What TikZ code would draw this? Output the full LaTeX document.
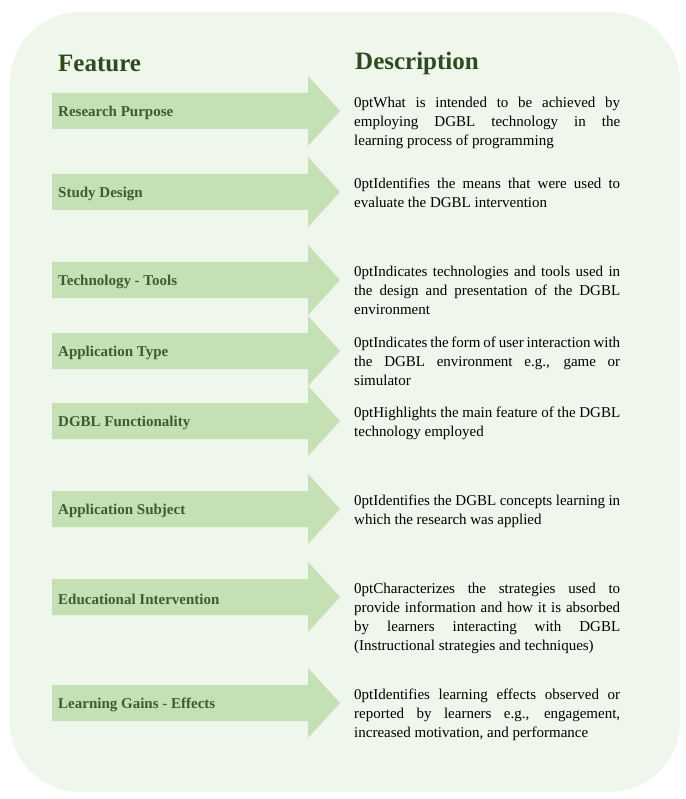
\documentclass[tikz,border=0pt]{standalone}
\usepackage{fontspec}
\setmainfont{Liberation Serif}
\usetikzlibrary{positioning}
\definecolor{bgGreen}{HTML}{EFF6EB}
\definecolor{arrGreen}{HTML}{C5E0B4}
\definecolor{headGreen}{HTML}{2E4A1F}
\definecolor{labGreen}{HTML}{3E5C2E}
\tikzset{
  feat/.style={anchor=west,font=\bfseries\fontsize{15}{17}\selectfont,text=labGreen,inner sep=0pt},
  desc/.style={anchor=north west,align=justify,text width=266pt,inner sep=0pt,
    font=\fontsize{15}{19}\selectfont\hyphenpenalty=10000\exhyphenpenalty=10000},
  header/.style={anchor=west,font=\bfseries\fontsize{25}{28}\selectfont,text=headGreen,inner sep=0pt}
}
\begin{document}
\begin{tikzpicture}[x=1pt,y=-1pt]
\useasboundingbox (0,0) rectangle (685,799);
\fill[bgGreen,rounded corners=70pt] (10,12) rectangle (680,792);

\node[header] (hfeat) at (58,63) {Feature};
\node[header] (hdesc) at (355,63) {Description};

\foreach \c/\f/\d [count=\i] in {
 111/Research Purpose/What is intended to be achieved by\linebreak employing DGBL technology in the\linebreak learning process of programming,
 192/Study Design/Identifies the means that were used to\linebreak evaluate the DGBL intervention,
 280/Technology - Tools/Indicates technologies and tools used in\linebreak the design and presentation of the DGBL\linebreak environment,
 351/Application Type/Indicates the form of user interaction with\linebreak the DGBL environment e.g.{,} game or\linebreak simulator,
 421/DGBL Functionality/Highlights the main feature of the DGBL\linebreak technology employed,
 509/Application Subject/Identifies the DGBL concepts learning in\linebreak which the research was applied,
 597/Educational Intervention/Characterizes the strategies used to\linebreak provide information and how it is absorbed\linebreak by learners interacting with DGBL\linebreak (Instructional strategies and techniques),
 703/Learning Gains - Effects/Identifies learning effects observed or\linebreak reported by learners e.g.{,} engagement{,}\linebreak increased motivation{,} and performance}
{
  \fill[arrGreen] (52,\c-18) -- (308,\c-18) -- (308,\c-35) -- (340,\c) -- (308,\c+35)
      -- (308,\c+18) -- (52,\c+18) -- cycle;
  \node[feat] (feat\i) at (58,\c+2) {\f};
  \node[desc] (desc\i) at (354,\c-14) {\d};
}
\end{tikzpicture}
\end{document}
